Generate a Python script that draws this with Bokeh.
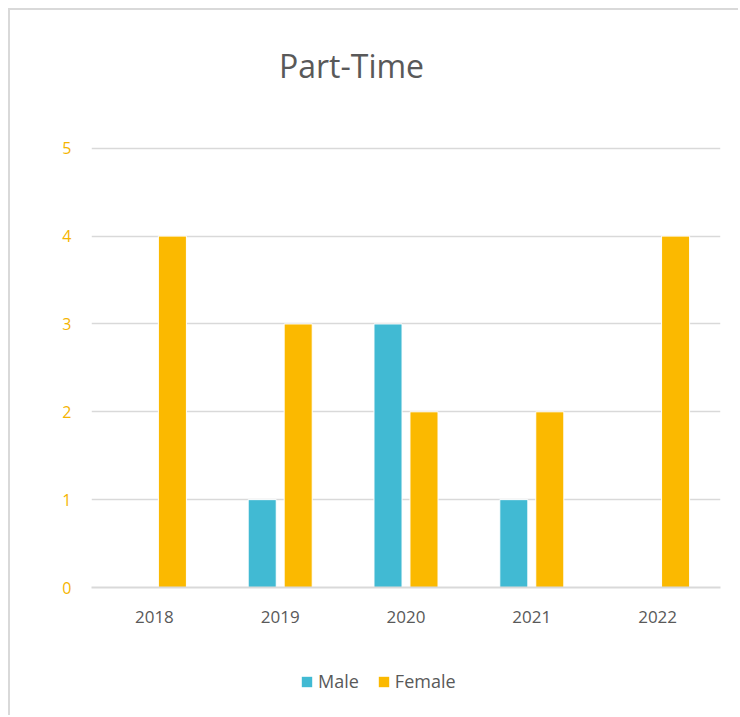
from bokeh.plotting import figure
from bokeh.layouts import column
from bokeh.models import FactorRange, Range1d, Legend, LegendItem, Label, ColumnDataSource, FixedTicker
from bokeh.transform import dodge
from bokeh.embed import file_html
from bokeh.resources import INLINE

years = ["2018", "2019", "2020", "2021", "2022"]
male = [0, 1, 3, 1, 0]
female = [4, 3, 2, 2, 4]
y_ticks = [0, 1, 2, 3, 4, 5]
series = ["Male", "Female"]
chart_title = "Part-Time"

src = ColumnDataSource(dict(years=years, male=male, female=female))

FONT = "Open Sans"
GREY = "#595959"
BLUE = "#41BAD3"
GOLD = "#FBB900"
BORDER = "2px solid #d9d9d9"


def strip(h, styles):
    f = figure(x_range=Range1d(0, 627), y_range=Range1d(0, h), width=730, height=h,
               output_backend="svg", toolbar_location=None,
               x_axis_location=None, y_axis_location=None,
               min_border_left=81, min_border_right=22, min_border_top=0, min_border_bottom=0)
    f.styles = styles
    f.outline_line_color = None
    f.grid.visible = False
    f.border_fill_color = "white"
    f.background_fill_color = "white"
    return f


# title strip
tf = strip(100, {"margin-left": "8px", "margin-top": "8px", "border-left": BORDER, "border-top": BORDER})
tf.add_layout(Label(x=260, y=45, text=chart_title, text_align="center", text_baseline="alphabetic",
                    text_font=FONT, text_font_size="32px", text_color=GREY))

# main chart
p = figure(x_range=FactorRange(*years), y_range=Range1d(0, 5.02),
           frame_width=627, frame_height=441, output_backend="svg", toolbar_location=None,
           min_border_left=81, min_border_right=22, min_border_top=38, min_border_bottom=66)
p.styles = {"margin-left": "8px", "border-left": BORDER}
p.outline_line_color = None
p.background_fill_color = "white"
p.border_fill_color = "white"

p.vbar(x=dodge("years", -0.143, range=p.x_range), top="male", width=0.223, source=src,
       fill_color=BLUE, line_color="white", line_width=1)
p.vbar(x=dodge("years", 0.143, range=p.x_range), top="female", width=0.223, source=src,
       fill_color=GOLD, line_color="white", line_width=1)

p.xgrid.grid_line_color = None
p.ygrid.grid_line_color = "#d9d9d9"
p.ygrid.grid_line_width = 1.5
p.yaxis.ticker = FixedTicker(ticks=y_ticks)

p.yaxis.axis_line_color = None
p.yaxis.major_tick_line_color = None
p.yaxis.minor_tick_line_color = None
p.yaxis.major_label_text_color = "#F5B400"
p.yaxis.major_label_text_font = FONT
p.yaxis.major_label_text_font_size = "16px"
p.yaxis.major_label_standoff = 14

p.xaxis.axis_line_color = "#d9d9d9"
p.xaxis.axis_line_width = 2
p.xaxis.major_tick_line_color = None
p.xaxis.minor_tick_line_color = None
p.xaxis.major_label_text_color = GREY
p.xaxis.major_label_text_font = FONT
p.xaxis.major_label_text_font_size = "17px"
p.xaxis.major_label_standoff = 17

# legend strip
lg = strip(62, {"margin-left": "8px", "border-left": BORDER})
proxy = ColumnDataSource(dict(x=[-50], top=[0]))
r_m = lg.vbar(x="x", top="top", width=1, source=proxy, fill_color=BLUE, line_color=None)
r_f = lg.vbar(x="x", top="top", width=1, source=proxy, fill_color=GOLD, line_color=None)

legend = Legend(items=[LegendItem(label=series[0], renderers=[r_m]),
                       LegendItem(label=series[1], renderers=[r_f])],
                orientation="horizontal", location=(209, 22),
                label_text_font=FONT, label_text_font_size="18px", label_text_color=GREY,
                glyph_width=13, glyph_height=13, label_standoff=5, spacing=18,
                border_line_color=None, background_fill_alpha=0, margin=0, padding=0)
lg.add_layout(legend)

layout = column(tf, p, lg, spacing=0)
open("out.html", "w").write(file_html(layout, INLINE))
